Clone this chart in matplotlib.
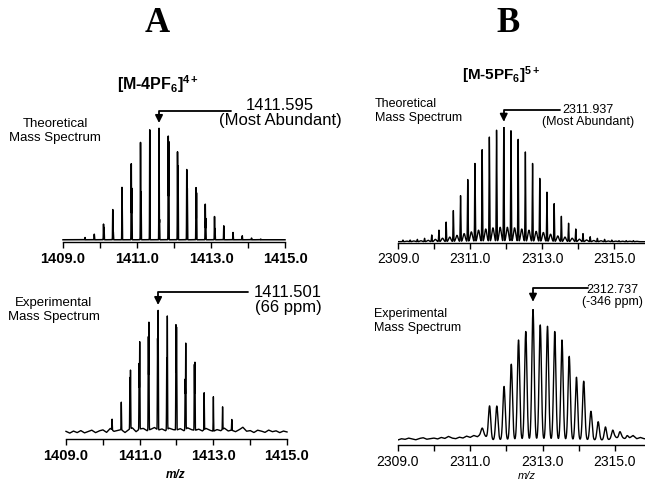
import matplotlib
matplotlib.use("Agg")
import matplotlib.pyplot as plt
import numpy as np

plt.rcParams['font.family'] = ['Liberation Sans', 'DejaVu Sans']
plt.rcParams['mathtext.fontset'] = 'custom'
plt.rcParams['mathtext.rm'] = 'Liberation Sans'
plt.rcParams['mathtext.bf'] = 'Liberation Sans:bold'
plt.rcParams['mathtext.it'] = 'Liberation Sans:italic'

# ---- data (relative intensity, max = 100) ----
# A: [M-4PF6]4+ theoretical, spacing 0.25
a_theo_mz = [1409.595, 1409.845, 1410.095, 1410.345, 1410.595, 1410.845, 1411.095,
             1411.345, 1411.595, 1411.845, 1412.095, 1412.345, 1412.595, 1412.845,
             1413.095, 1413.345, 1413.595, 1413.845, 1414.095, 1414.345]
a_theo_int = [2, 5, 14, 27, 47, 68, 87, 98.5, 100, 92.6, 78.6, 63, 46.6, 31.8,
              20.8, 12.5, 6.5, 3.6, 1.5, 0.6]
# shorter companion lines next to the main ones
a_theo_comp = [0, 0, 11, 7, 0, 46, 43, 0, 18, 88, 66, 46, 42, 19, 10, 0, 0, 0, 0, 0]

# A: experimental
a_exp_mz = [1410.251, 1410.501, 1410.751, 1411.001, 1411.251, 1411.501, 1411.751,
            1412.001, 1412.251, 1412.501, 1412.751, 1413.001, 1413.251, 1413.501]
a_exp_int = [9, 23, 49, 73, 90, 100, 95, 86, 72, 57, 31, 29, 19, 9]
a_exp_comp = [0, 0, 43, 55, 78, 76, 60, 88, 42, 55, 0, 0, 0, 0]
a_noise_mz = np.round(np.arange(1409.0, 1415.01, 0.1), 2)
a_noise = [0.5, -1.0, 0.8, -0.6, 1.2, -0.8, 0.3, 1.5, -0.6, 0.9,
           1.8, -0.4, 3.0, 0.5, 1.2, 2.0, -0.5, 1.8, 3.5, 0.2,
           2.5, 3.0, 1.0, 2.2, 3.8, 1.5, 2.6, 1.0, 3.2, 2.0,
           1.5, 2.8, 1.0, 3.5, 2.0, 1.2, 2.4, 0.8, 3.0, 1.5,
           0.5, 2.0, 1.0, 3.2, 0.8, 1.5, 0.2, 1.8, 4.0, 0.6,
           1.2, -0.5, 1.5, 0.8, -0.4, 1.6, 0.2, 1.0, -0.6, 0.8, 0.0]

# B: [M-5PF6]5+ theoretical, spacing 0.2
b_theo_mz = [2309.137, 2309.337, 2309.537, 2309.737, 2309.937, 2310.137, 2310.337,
             2310.537, 2310.737, 2310.937, 2311.137, 2311.337, 2311.537, 2311.737,
             2311.937, 2312.137, 2312.337, 2312.537, 2312.737, 2312.937, 2313.137,
             2313.337, 2313.537, 2313.737, 2313.937, 2314.137, 2314.337, 2314.537,
             2314.737, 2314.937, 2315.137, 2315.337, 2315.537]
b_theo_int = [1.4, 1.4, 2, 2.9, 5.8, 10, 17, 27, 40, 54, 68, 80, 91, 97, 100, 96.5,
              89, 78, 68, 55, 43, 33, 22, 16, 11, 7, 4.3, 2.9, 2, 1.4, 0.9, 0.9, 0.9]
# small broad humps between the spikes
b_theo_hump = [0.5, 0.6, 0.8, 1.2, 2, 3, 4, 5.5, 7, 8.5, 10, 11, 12, 12.5, 12.5, 12,
               11, 10, 9, 8, 6.5, 5, 4, 3, 2.2, 1.5, 1.0, 0.8, 0.6, 0.5, 0.4, 0.4, 0.3]

# B: experimental
b_exp_mz = [2311.337, 2311.537, 2311.737, 2311.937, 2312.137, 2312.337, 2312.537,
            2312.737, 2312.937, 2313.137, 2313.337, 2313.537, 2313.737, 2313.937,
            2314.137, 2314.337, 2314.537, 2314.737, 2314.937, 2315.137, 2315.337]
b_exp_int = [5, 25.5, 26, 41, 58, 76.5, 83, 100, 88, 87, 83, 76.5, 64, 48, 45, 22,
             14, 10, 6, 5, 2.5]
b_noise_mz = np.round(np.arange(2309.0, 2315.81, 0.1), 2)
b_noise = [0.0, 1.0, 0.5, 1.5, 0.8, 0.2, 1.2, 1.8, 0.6, 1.0,
           1.5, 0.8, 2.0, 1.2, 2.8, 1.5, 1.0, 2.2, 1.5, 3.0,
           2.0, 3.5, 2.5, 4.5, 3.5, 1.0, 0.0, 0.0, 0.0, 0.0,
           0.0, 0.0, 0.0, 0.0, 0.0, 0.0, 0.0, 0.0, 0.0, 0.0,
           0.0, 0.0, 0.0, 0.0, 0.0, 0.0, 0.0, 0.0, 0.0, 0.0,
           0.0, 0.0, 0.0, 0.0, 0.0, 0.0, 0.0, 0.0, 0.0, 1.0,
           2.5, 1.0, 2.0, 0.5, 1.5, 3.5, 1.0, 2.0, 1.0]

a_ticks = [1409, 1410, 1411, 1412, 1413, 1414, 1415]
a_ticklabels = ['1409.0', '', '1411.0', '', '1413.0', '', '1415.0']
b_ticks = [2309, 2310, 2311, 2312, 2313, 2314, 2315]
b_ticklabels = ['2309.0', '', '2311.0', '', '2313.0', '', '2315.0']

W, H = 645, 482


def fx(px):
    return px / W


def fy(py):
    return 1 - py / H


def panel(fig, left, top, right, bottom):
    ax = fig.add_axes([fx(left), fy(bottom), (right - left) / W, (bottom - top) / H])
    for s in ('left', 'right', 'top'):
        ax.spines[s].set_visible(False)
    ax.spines['bottom'].set_linewidth(1.0)
    ax.set_yticks([])
    ax.patch.set_alpha(0)
    ax.tick_params(axis='x', direction='out', length=4, width=1, pad=3)
    return ax


def profile(grid, centers, heights, width):
    y = np.zeros_like(grid)
    for c, h in zip(centers, heights):
        y += h * np.exp(-0.5 * ((grid - c) / width) ** 2)
    return y


def arrow(ax, peak, tip, line_y, end_x):
    ax.annotate('', xy=(peak, tip), xycoords=('data', 'axes fraction'),
                xytext=(end_x, line_y), textcoords=('data', 'axes fraction'),
                arrowprops=dict(arrowstyle='-|>', mutation_scale=11, lw=1.3,
                                color='black', shrinkA=0, shrinkB=0,
                                connectionstyle='angle,angleA=0,angleB=90,rad=0'))


fig = plt.figure(figsize=(6.45, 4.82), dpi=100)

fig.text(fx(157), fy(23), 'A', family='Liberation Serif', fontweight='bold',
         fontsize=25, ha='center', va='center')
fig.text(fx(508), fy(23), 'B', family='Liberation Serif', fontweight='bold',
         fontsize=25, ha='center', va='center')

# ---- A theoretical ----
ax = panel(fig, 63, 128, 285, 242)
g = np.linspace(1409, 1415, 8000)
y = profile(g, a_theo_mz, a_theo_int, 0.004)
y += profile(g, [m + 0.014 for m in a_theo_mz], a_theo_comp, 0.004)
ax.plot(g, y, color='black', lw=1.1, clip_on=False)
ax.set_xlim(1409, 1415)
ax.set_ylim(-2, 100)
ax.set_xticks(a_ticks)
ax.set_xticklabels(a_ticklabels, fontweight='bold', fontsize=10.5)
arrow(ax, a_theo_mz[8], 1.044, 1.149, 1413.54)
fig.text(fx(158), fy(84), '[M-4PF$_\\mathbf{6}$]$^\\mathbf{4+}$', fontweight='bold',
         fontsize=11.5, ha='center', va='center')
fig.text(fx(280), fy(113), '1411.595\n(Most Abundant)', fontsize=12,
         ha='center', va='center', linespacing=1.05)
fig.text(fx(55), fy(131), 'Theoretical\nMass Spectrum', fontsize=9.5,
         ha='center', va='center')

# ---- A experimental ----
ax = panel(fig, 66, 312.7, 287, 439)
g = np.linspace(1409, 1415, 8000)
y = profile(g, a_exp_mz, a_exp_int, 0.005)
y += profile(g, [m - 0.016 for m in a_exp_mz], a_exp_comp, 0.005)
y += np.interp(g, a_noise_mz, a_noise)
ax.plot(g, y, color='black', lw=1.0, clip_on=False)
ax.set_xlim(1409, 1415)
ax.set_ylim(-5.9, 100)
ax.set_xticks(a_ticks)
ax.set_xticklabels(a_ticklabels, fontweight='bold', fontsize=10.5)
arrow(ax, a_exp_mz[5], 1.061, 1.164, 1413.95)
fig.text(fx(288), fy(300), '1411.501\n(66 ppm)', fontsize=12,
         ha='center', va='center', linespacing=1.05)
fig.text(fx(54), fy(310), 'Experimental\nMass Spectrum', fontsize=9.5,
         ha='center', va='center')
fig.text(fx(176), fy(475), 'm/z', fontweight='bold', style='italic', fontsize=8.5,
         ha='center', va='center')

# ---- B theoretical ----
ax = panel(fig, 398, 126.7, 645, 242.7)
g = np.linspace(2309, 2315.86, 7000)
y = profile(g, b_theo_mz, b_theo_int, 0.008)
y += profile(g, [m + 0.1 for m in b_theo_mz], b_theo_hump, 0.03)
ax.plot(g, y, color='black', lw=1.0)
ax.set_xlim(2309, 2315.86)
ax.set_ylim(-0.9, 100)
ax.set_xticks(b_ticks)
ax.set_xticklabels(b_ticklabels, fontsize=10)
arrow(ax, b_theo_mz[14], 1.043, 1.144, 2313.5)
fig.text(fx(501), fy(75), '[M-5PF$_\\mathbf{6}$]$^\\mathbf{5+}$', fontweight='bold',
         fontsize=11, ha='center', va='center')
fig.text(fx(588), fy(116), '2311.937\n(Most Abundant)', fontsize=9,
         ha='center', va='center', linespacing=1.1)
fig.text(fx(375), fy(111), 'Theoretical\nMass Spectrum', fontsize=9,
         ha='left', va='center')

# ---- B experimental ----
ax = panel(fig, 397.7, 309.3, 645, 445)
g = np.linspace(2309, 2315.83, 7000)
y = profile(g, b_exp_mz, b_exp_int, 0.032)
y += np.interp(g, b_noise_mz, b_noise)
ax.plot(g, y, color='black', lw=1.0)
ax.set_xlim(2309, 2315.83)
ax.set_ylim(-3.8, 100)
ax.set_xticks(b_ticks)
ax.set_xticklabels(b_ticklabels, fontsize=10)
arrow(ax, b_exp_mz[7], 1.056, 1.157, 2314.26)
fig.text(fx(612), fy(296), '2312.737\n(-346 ppm)', fontsize=9,
         ha='center', va='center', linespacing=1.1)
fig.text(fx(374), fy(321), 'Experimental\nMass Spectrum', fontsize=9,
         ha='left', va='center')
fig.text(fx(527), fy(476), 'm/z', style='italic', fontsize=8,
         ha='center', va='center')

fig.savefig('out.png', dpi=100)
